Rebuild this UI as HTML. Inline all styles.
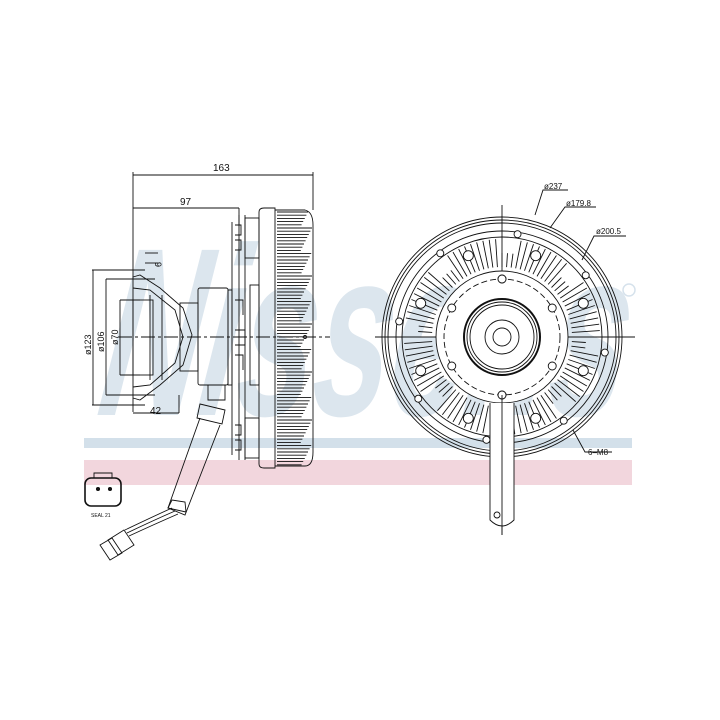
<!DOCTYPE html>
<html><head><meta charset="utf-8"><style>
html,body{margin:0;padding:0;background:#fff}
svg{display:block}
text{font-family:"Liberation Sans",sans-serif}
</style></head><body>
<svg id="s" width="720" height="720" viewBox="0 0 720 720" xmlns="http://www.w3.org/2000/svg">
<rect width="720" height="720" fill="#fff"/>
<!-- watermark -->
<text x="0" y="0" transform="translate(95,415) skewX(-8)" font-size="240" font-style="italic" font-weight="bold" fill="#dce6ee" textLength="525" lengthAdjust="spacingAndGlyphs">Nissens</text>
<circle cx="629" cy="290" r="6" fill="none" stroke="#d6e2ec" stroke-width="1.5"/>
<rect x="84" y="438" width="548" height="10" fill="#d3e0ea"/>
<rect x="84" y="460" width="548" height="25" fill="#f2d6dd"/>

<g fill="none" stroke="#111" stroke-width="0.9" id="g">
<!-- dimensions left -->
<line x1="133" y1="175" x2="313" y2="175"/>
<line x1="133" y1="172" x2="133" y2="412"/>
<line x1="313" y1="172" x2="313" y2="210"/>
<line x1="133" y1="208" x2="239" y2="208"/>
<line x1="239" y1="208" x2="239" y2="225"/>
<line x1="133" y1="413" x2="179" y2="413"/>
<line x1="179" y1="395" x2="179" y2="413"/>
<line x1="93" y1="270" x2="93" y2="405"/><line x1="92" y1="270" x2="145" y2="270"/><line x1="92" y1="405" x2="145" y2="405"/>
<line x1="106" y1="279" x2="106" y2="395"/><line x1="106" y1="279" x2="155" y2="279"/><line x1="106" y1="395" x2="155" y2="395"/>
<line x1="120" y1="300" x2="120" y2="375"/><line x1="120" y1="300" x2="140" y2="300"/><line x1="120" y1="375" x2="140" y2="375"/>
<line x1="145" y1="253" x2="158" y2="253"/><line x1="145" y1="263" x2="158" y2="263"/>
<!-- center line -->
<line x1="118" y1="337" x2="330" y2="337" stroke-dasharray="14,3,3,3"/>
<!-- pulley -->
<path d="M133 277 L140 275 L160 288 L183 308 L192 335 L183 365 L160 385 L140 400 L133 398"/>
<path d="M133 288 L150 290 L175 310 L183 337 L175 363 L150 385 L133 387"/>
<rect x="133" y="300" width="20" height="75"/>
<line x1="150" y1="295" x2="150" y2="380"/>
<line x1="162" y1="295" x2="162" y2="380"/>
<!-- shaft -->
<rect x="180" y="303" width="18" height="68"/>
<rect x="198" y="288" width="30" height="97" rx="2"/>
<rect x="228" y="290" width="4" height="95"/>
<path d="M208 385 L208 400 L225 400 L225 385"/>
<!-- flange body -->
<path d="M232 222 L232 455 M239 215 L239 460 M245 215 L245 460"/>
<rect x="245" y="218" width="14" height="40"/><rect x="245" y="418" width="14" height="40"/>
<rect x="250" y="285" width="9" height="100"/>
<path d="M235 225 h6 v10 h-6 M235 240 h6 v10 h-6 M235 425 h6 v10 h-6 M235 440 h6 v10 h-6 M235 300 h8 v15 M235 330 h10 v15 h-10 M235 355 h8 v15"/>
<path d="M259 212 Q259 208 264 208 L275 208 L275 468 L264 468 Q259 468 259 464 Z"/>
<path d="M275 210 L305 210 Q313 212 313 225 L313 452 Q313 466 305 466 L275 466"/>
<g id="fins"></g>
<circle cx="305" cy="337" r="1.5"/>
<!-- sensor -->
<path d="M200 404 L225 410 L222 424 L197 418 Z"/>
<path d="M200 418 L168 508 L185 515 L220 425"/>
<path d="M168 508 L172 500 L185 502 L186 512 Z"/>
<path d="M172 508 Q150 518 125 530 M175 511 Q152 521 127 533 M178 514 Q155 524 129 536"/>
<path d="M108 540 L124 530 L134 545 L118 555 Z M100 545 L112 538 L122 553 L110 560 Z"/>
<!-- connector -->
<rect x="85" y="478" width="36" height="28" rx="6" stroke-width="1.6"/>
<path d="M94 478 v-5 h18 v5"/>
<circle cx="98" cy="489" r="1.6" fill="#111"/><circle cx="110" cy="489" r="1.6" fill="#111"/>
<!-- front view -->
<line x1="375" y1="337" x2="635" y2="337"/>
<line x1="502" y1="205" x2="502" y2="535"/>
<circle cx="502" cy="337" r="120"/>
<circle cx="502" cy="337" r="117"/>
<circle cx="502" cy="337" r="114"/>
<circle cx="502" cy="337" r="106"/>
<circle cx="502" cy="337" r="100"/>
<circle cx="502" cy="337" r="66" fill="#fff"/>
<circle cx="502" cy="337" r="58" stroke-dasharray="6,3"/>
<circle cx="502" cy="337" r="38" stroke-width="2"/>
<circle cx="502" cy="337" r="35"/>
<circle cx="502" cy="337" r="32"/>
<circle cx="502" cy="337" r="17"/>
<circle cx="502" cy="337" r="9"/>
<g id="radial"></g>
<path d="M490 403 L490 520 Q502 532 514 520 L514 403" fill="#fff"/>
<line x1="502" y1="395" x2="502" y2="535"/>
<circle cx="497" cy="515" r="3"/>
<!-- leaders -->
<path d="M535 215 L543 190 L568 190"/>
<path d="M550 228 L565 207 L596 207"/>
<path d="M582 260 L594 236 L626 236"/>
<path d="M573 430 L585 452 L612 452"/>
</g>
<g font-size="10" fill="#111">
<text x="213" y="171">163</text>
<text x="180" y="205">97</text>
<text x="150" y="414">42</text>
<text transform="translate(155,262) rotate(90)" font-size="9">9</text>
<text transform="translate(91,355) rotate(-90)" font-size="9">ø123</text>
<text transform="translate(104,352) rotate(-90)" font-size="9">ø106</text>
<text transform="translate(118,345) rotate(-90)" font-size="9">ø70</text>
<text x="544" y="189" font-size="8">ø237</text>
<text x="566" y="206" font-size="8">ø179.8</text>
<text x="596" y="234" font-size="8">ø200.5</text>
<text x="588" y="455" font-size="8">6–M8</text>
<text x="91" y="517" font-size="5">SEAL 21</text>
</g>
</svg>
<script>
var ns="http://www.w3.org/2000/svg";
function L(p,x1,y1,x2,y2){var l=document.createElementNS(ns,"line");l.setAttribute("x1",x1);l.setAttribute("y1",y1);l.setAttribute("x2",x2);l.setAttribute("y2",y2);p.appendChild(l);}
function C(p,x,y,r){var c=document.createElementNS(ns,"circle");c.setAttribute("cx",x);c.setAttribute("cy",y);c.setAttribute("r",r);c.setAttribute("fill","#fff");p.appendChild(c);}
var f=document.getElementById("fins");
for(var y=212;y<466;y+=3.2){var e=300+((y*7)%12);L(f,277,y,e,y);}
var r=document.getElementById("radial"),cx=502,cy=337;
for(var i=0;i<96;i++){var a=i*Math.PI*2/96;var r1=70,r2=98;if(i%12<3){r2=84;}
L(r,cx+r1*Math.cos(a),cy+r1*Math.sin(a),cx+r2*Math.cos(a),cy+r2*Math.sin(a));}
for(var k=0;k<8;k++){var a=(k*45+22.5)*Math.PI/180;var x=cx+88*Math.cos(a),y=cy+88*Math.sin(a);C(r,x,y,5);
var b=(k*45)*Math.PI/180;C(r,cx+104*Math.cos(b+0.15),cy+104*Math.sin(b+0.15),3.5);}
for(var k=0;k<6;k++){var a=(k*60+30)*Math.PI/180;C(r,cx+58*Math.cos(a),cy+58*Math.sin(a),4);}
C(r,cx,cy-58,4);C(r,cx,cy+58,4);
</script>
</body></html>
